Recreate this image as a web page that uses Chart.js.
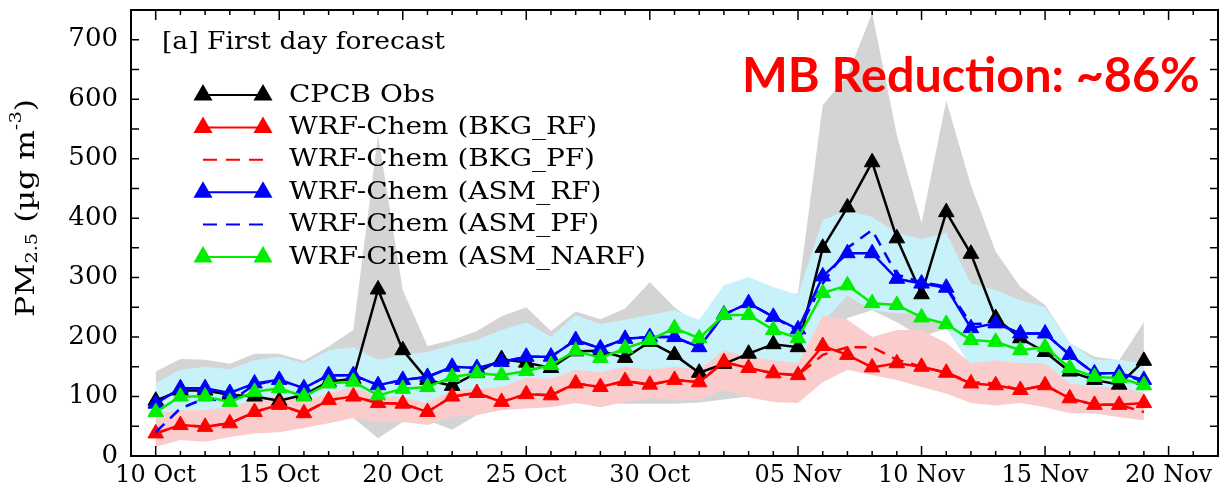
<!DOCTYPE html>
<html>
<head>
<meta charset="utf-8">
<script src="https://cdn.jsdelivr.net/npm/chart.js"></script>
<style>
  html, body { margin: 0; padding: 0; background: #fff; }
  #wrap { position: relative; width: 1219px; height: 495px; }
</style>
</head>
<body>
<div id="wrap"><canvas id="chart" width="1219" height="495"></canvas></div>
<script>
// day index: 0 = 10 Oct ... 40 = 19 Nov
const days = [0,1,2,3,4,5,6,7,8,9,10,11,12,13,14,15,16,17,18,19,20,21,22,23,24,25,26,27,28,29,30,31,32,33,34,35,36,37,38,39,40];

const xTickDays = [0, 5, 10, 15, 20, 26, 31, 36, 41];
const xTickLabels = ['10 Oct', '15 Oct', '20 Oct', '25 Oct', '30 Oct', '05 Nov', '10 Nov', '15 Nov', '20 Nov'];
const yTickValues = [0, 100, 200, 300, 400, 500, 600, 700];

const cpcbObs  = [93,110,110,103,100,93,103,125,130,280,178,128,118,140,163,157,148,176,177,165,192,170,140,155,172,188,183,350,418,494,366,272,410,340,232,198,175,142,128,120,160];
const bkgRF    = [38,52,49,55,74,86,72,94,100,89,88,74,100,106,91,104,102,122,116,126,120,128,124,158,148,139,136,185,170,149,156,150,140,122,119,111,119,97,86,86,89];
const bkgPF    = [38,52,49,55,74,86,72,94,100,89,88,74,100,106,91,104,102,122,116,126,120,128,124,158,148,139,136,170,183,183,162,150,140,124,122,111,119,97,86,86,74];
const asmRF    = [88,114,114,106,122,128,114,136,136,119,128,133,150,148,158,167,167,195,181,197,200,200,183,238,257,234,213,302,341,341,298,290,283,215,223,206,206,170,139,139,128];
const asmPF    = [40,80,97,91,120,128,114,136,136,119,128,133,150,148,158,167,167,195,181,197,200,200,183,238,257,234,210,290,350,380,305,292,285,222,223,206,206,170,139,139,125];
const asmNARF  = [74,100,100,91,108,114,100,122,125,102,113,116,133,139,136,143,153,177,165,181,195,215,198,237,237,212,198,274,287,257,254,233,222,195,192,178,183,148,133,131,119];

// shaded ranges
const obsHi  = [142,163,162,155,172,172,160,184,212,540,279,185,195,210,235,250,210,243,230,248,292,250,218,240,250,262,274,590,640,745,540,392,598,455,344,284,254,190,167,161,225];
const obsLo  = [60,60,60,65,70,70,75,80,64,30,57,60,44,69,80,85,88,92,90,88,88,88,90,95,100,100,100,165,232,245,225,200,215,200,170,150,140,125,118,115,110];
const asmHi  = [123,145,150,146,161,167,156,178,183,162,170,175,187,195,212,225,200,237,222,229,237,245,229,287,301,284,271,397,413,402,375,365,375,290,279,262,250,190,162,162,156];
const asmLo  = [60,70,70,75,85,95,85,100,110,95,95,85,105,110,110,125,125,140,135,145,140,145,140,170,160,155,150,225,270,245,240,240,215,150,155,150,150,115,110,110,100];
const bkgHi  = [72,77,77,82,94,103,91,106,116,99,99,89,111,113,116,131,130,145,141,150,145,150,145,178,167,161,156,236,229,200,212,212,190,156,161,156,156,122,116,116,106];
const bkgLo  = [15,27,24,32,38,40,47,55,64,57,57,52,66,69,77,80,82,89,82,91,97,95,94,111,99,91,89,124,145,136,128,116,105,89,85,89,82,72,72,65,60];

function xy(arr) {
  return days.map((d, i) => ({ x: d, y: arr[i] }));
}

function band(data, color, fill, order) {
  return { data: xy(data), fill: fill, backgroundColor: color, borderWidth: 0, pointRadius: 0, order: order, inLegend: false };
}

function series(label, data, color, dashed, marker, order) {
  return {
    label: label, data: xy(data), borderColor: color, backgroundColor: color,
    borderWidth: 2.5, borderDash: dashed ? [12, 8] : [],
    pointStyle: 'triangle', pointRadius: marker ? 9 : 0, pointBorderWidth: 1,
    fill: false, order: order, inLegend: true
  };
}

const serif = 'DejaVu Serif';

function drawTri(ctx, x, y, r) {
  ctx.beginPath();
  ctx.moveTo(x, y - r);
  ctx.lineTo(x + r * Math.sin(2 * Math.PI / 3), y + r / 2);
  ctx.lineTo(x - r * Math.sin(2 * Math.PI / 3), y + r / 2);
  ctx.closePath();
  ctx.fill();
}

// text stretched horizontally to a given width
function wideText(ctx, txt, x, y, width) {
  const w = ctx.measureText(txt).width;
  ctx.save();
  ctx.translate(x, y);
  ctx.scale(width / w, 1);
  ctx.fillText(txt, 0, 0);
  ctx.restore();
}

// frame, inward ticks, legend and annotations
const overlay = {
  id: 'overlay',
  afterDraw(chart) {
    const { ctx, chartArea: a, scales: { x, y } } = chart;
    ctx.save();
    ctx.strokeStyle = '#000';
    ctx.lineWidth = 2;
    ctx.strokeRect(a.left, a.top, a.right - a.left, a.bottom - a.top);

    ctx.lineWidth = 1.5;
    ctx.beginPath();
    for (let d = 0; d <= 42; d++) {
      const px = x.getPixelForValue(d);
      const len = xTickDays.includes(d) ? 10 : 5;
      ctx.moveTo(px, a.bottom); ctx.lineTo(px, a.bottom - len);
      ctx.moveTo(px, a.top); ctx.lineTo(px, a.top + len);
    }
    for (let v = 50; v < 750; v += 50) {
      const py = y.getPixelForValue(v);
      ctx.moveTo(a.left, py); ctx.lineTo(a.left + 8, py);
      ctx.moveTo(a.right, py); ctx.lineTo(a.right - 8, py);
    }
    ctx.stroke();

    // panel title
    ctx.fillStyle = '#000';
    ctx.textBaseline = 'middle';
    ctx.font = '25px "' + serif + '"';
    wideText(ctx, '[a] First day forecast', 162, 42, 283);

    // legend
    const rows = chart.data.datasets.filter(ds => ds.inLegend);
    const longest = 'WRF-Chem (ASM_NARF)';
    ctx.font = '25px "' + serif + '"';
    const k = 357 / ctx.measureText(longest).width;
    rows.forEach((ds, i) => {
      const ry = 95 + i * 32.4;
      ctx.strokeStyle = ds.borderColor;
      ctx.fillStyle = ds.borderColor;
      ctx.lineWidth = 2;
      ctx.setLineDash(ds.borderDash.length ? [14, 9] : []);
      ctx.beginPath();
      ctx.moveTo(203, ry); ctx.lineTo(265, ry);
      ctx.stroke();
      ctx.setLineDash([]);
      if (ds.pointRadius > 0) {
        drawTri(ctx, 203, ry, 11);
        drawTri(ctx, 263, ry, 11);
      }
      ctx.fillStyle = '#000';
      ctx.font = '25px "' + serif + '"';
      wideText(ctx, ds.label, 289, ry, ctx.measureText(ds.label).width * k);
    });

    // MB reduction note
    ctx.fillStyle = '#ff0000';
    ctx.textBaseline = 'alphabetic';
    let size = 46;
    ctx.font = 'bold ' + size + 'px Lato';
    const w = ctx.measureText('MB Reduction: ~86%').width;
    size = size * 458 / w;
    ctx.font = 'bold ' + size + 'px Lato';
    ctx.fillText('MB Reduction: ~86%', 742, 92);

    // y axis title with sub/superscript
    ctx.fillStyle = '#000';
    ctx.translate(27, 208);
    ctx.rotate(-Math.PI / 2);
    const parts = [
      { t: 'PM', s: 26, dy: 0 },
      { t: '2.5', s: 16, dy: 6 },
      { t: ' (\u00b5g m', s: 26, dy: 0 },
      { t: '-3', s: 16, dy: -10 },
      { t: ')', s: 26, dy: 0 }
    ];
    let total = 0;
    parts.forEach(p => { ctx.font = p.s + 'px "' + serif + '"'; p.w = ctx.measureText(p.t).width; total += p.w; });
    const stretch = 218 / total;
    ctx.scale(stretch, 1);
    ctx.textBaseline = 'middle';
    let cx = -total / 2;
    parts.forEach(p => {
      ctx.font = p.s + 'px "' + serif + '"';
      ctx.fillText(p.t, cx, p.dy);
      cx += p.w;
    });
    ctx.restore();
  }
};

const gray = 'rgb(212,212,212)';
const cyan = 'rgb(200,242,250)';
const pink = 'rgb(251,204,204)';

new Chart(document.getElementById('chart'), {
  type: 'line',
  data: {
    datasets: [
      series('CPCB Obs', cpcbObs, '#000000', false, true, 6),
      series('WRF-Chem (BKG_RF)', bkgRF, '#ff0000', false, true, 5),
      series('WRF-Chem (BKG_PF)', bkgPF, '#ff0000', true, false, 4),
      series('WRF-Chem (ASM_RF)', asmRF, '#0000ff', false, true, 3),
      series('WRF-Chem (ASM_PF)', asmPF, '#0000ff', true, false, 2),
      series('WRF-Chem (ASM_NARF)', asmNARF, '#00ee00', false, true, 1),
      band(obsHi, gray, '+1', 30),
      band(obsLo, gray, false, 30),
      band(asmHi, cyan, '+1', 20),
      band(asmLo, cyan, false, 20),
      band(bkgHi, pink, '+1', 10),
      band(bkgLo, pink, false, 10)
    ]
  },
  options: {
    responsive: false,
    animation: false,
    layout: { autoPadding: false, padding: { top: 10, right: 1, left: 0, bottom: 0 } },
    elements: { line: { tension: 0 } },
    plugins: {
      legend: { display: false },
      tooltip: { enabled: false },
      filler: { propagate: false }
    },
    scales: {
      x: {
        type: 'linear', min: -1, max: 43,
        grid: { display: false, drawTicks: false },
        border: { display: false },
        afterBuildTicks: s => { s.ticks = xTickDays.map(v => ({ value: v })); },
        afterFit: s => { s.height = 39; s.paddingLeft = 0; s.paddingRight = 0; },
        ticks: {
          autoSkip: false, maxRotation: 0, padding: 5, color: '#000',
          font: { family: serif, size: 24 },
          callback: (v, i) => xTickLabels[i]
        }
      },
      y: {
        min: 0, max: 750,
        grid: { display: false, drawTicks: false },
        border: { display: false },
        afterBuildTicks: s => { s.ticks = yTickValues.map(v => ({ value: v })); },
        afterFit: s => { s.width = 131; s.paddingTop = 0; s.paddingBottom = 0; },
        ticks: { padding: 13, color: '#000', font: { family: serif, size: 26 } }
      }
    }
  },
  plugins: [overlay]
});
</script>
</body>
</html>
